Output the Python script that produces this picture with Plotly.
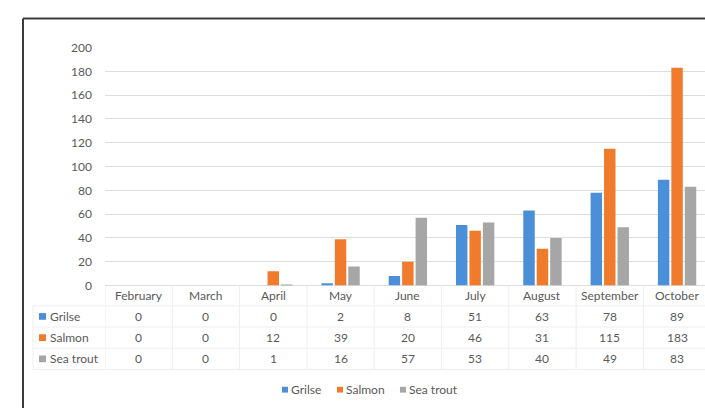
import plotly.graph_objects as go

# Monthly counts by species
months = ["February", "March", "April", "May", "June", "July", "August", "September", "October"]
grilse = [0, 0, 0, 2, 8, 51, 63, 78, 89]
salmon = [0, 0, 12, 39, 20, 46, 31, 115, 183]
sea_trout = [0, 0, 1, 16, 57, 53, 40, 49, 83]

series_names = ["Grilse", "Salmon", "Sea trout"]
series_values = [grilse, salmon, sea_trout]
colors = ["#4A8FD8", "#F07B2C", "#A6A6A6"]

W, H = 705, 415
FONT = "Lato"
FS = 12
TXT = "#595959"
GRID = "#DDDDDD"
TABLE_LINE = "#EEEEEE"


def px(x):
    return x / W


def py(y):
    return 1 - y / H


def label(x, y, text, xref="paper", xanchor="center"):
    return dict(x=x, y=py(y), xref=xref, yref="paper", text=text,
                xanchor=xanchor, yanchor="middle", showarrow=False,
                font=dict(size=FS, color=TXT, family=FONT))


fig = go.Figure()
for name, vals, col in zip(series_names, series_values, colors):
    fig.add_trace(go.Bar(x=list(range(len(months))), y=vals, name=name,
                         marker=dict(color=col, line=dict(width=0)),
                         showlegend=False))

shapes = []
annotations = []

# Data table under the plot: header row with months, then one row per series
header_y = 298
row_ys = [320, 342, 364]
for i, m in enumerate(months):
    annotations.append(label(i, header_y, m, xref="x"))
    for vals, ry in zip(series_values, row_ys):
        annotations.append(label(i, ry, str(vals[i]), xref="x"))

# Row labels with colour keys
for name, col, ry in zip(series_names, colors, row_ys):
    shapes.append(dict(type="rect", xref="paper", yref="paper",
                       x0=px(39), x1=px(46), y0=py(ry + 3.5), y1=py(ry - 3.5),
                       fillcolor=col, line=dict(width=0)))
    annotations.append(label(px(48), ry, name, xanchor="left"))

# Table grid lines
for yl in [309, 331, 353, 375]:
    shapes.append(dict(type="line", xref="paper", yref="paper",
                       x0=px(33), x1=1, y0=py(yl), y1=py(yl),
                       line=dict(color=TABLE_LINE, width=1)))
shapes.append(dict(type="line", xref="paper", yref="paper",
                   x0=px(33), x1=px(33), y0=py(309), y1=py(375),
                   line=dict(color=TABLE_LINE, width=1)))
for k in range(len(months)):
    shapes.append(dict(type="line", xref="x", yref="paper",
                       x0=k - 0.5, x1=k - 0.5, y0=py(288), y1=py(375),
                       line=dict(color=TABLE_LINE, width=1)))

# Legend along the bottom
legend_items = [(282, "Grilse"), (337, "Salmon"), (400, "Sea trout")]
ly = 396
for (lx, name), col in zip(legend_items, colors):
    shapes.append(dict(type="rect", xref="paper", yref="paper",
                       x0=px(lx), x1=px(lx + 6), y0=py(ly + 3), y1=py(ly - 3),
                       fillcolor=col, line=dict(width=0)))
    annotations.append(label(px(lx + 7), ly, name, xanchor="left"))

# Outer frame (left and top edges)
shapes.append(dict(type="line", xref="paper", yref="paper", x0=px(23), x1=px(23),
                   y0=0, y1=py(11), line=dict(color="#3C3C3C", width=2)))
shapes.append(dict(type="line", xref="paper", yref="paper", x0=px(23), x1=1,
                   y0=py(11), y1=py(11), line=dict(color="#3C3C3C", width=2)))

fig.update_layout(
    width=W, height=H,
    margin=dict(l=0, r=0, t=0, b=0),
    paper_bgcolor="white", plot_bgcolor="white",
    barmode="group", bargap=0.4, bargroupgap=0.15,
    font=dict(family=FONT, size=FS, color=TXT),
    xaxis=dict(domain=[px(105), 1], range=[-0.5, 8.415], showticklabels=False,
               showgrid=False, zeroline=False, showline=False, fixedrange=True),
    yaxis=dict(domain=[py(288), py(41)], range=[0, 200], dtick=20,
               showgrid=True, gridcolor=GRID, gridwidth=1,
               zeroline=True, zerolinecolor=GRID, zerolinewidth=1,
               showline=False, ticks="", ticklabelstandoff=12,
               tickfont=dict(size=FS, color=TXT, family=FONT)),
    shapes=shapes,
    annotations=annotations,
)

fig.write_html("out.html")
